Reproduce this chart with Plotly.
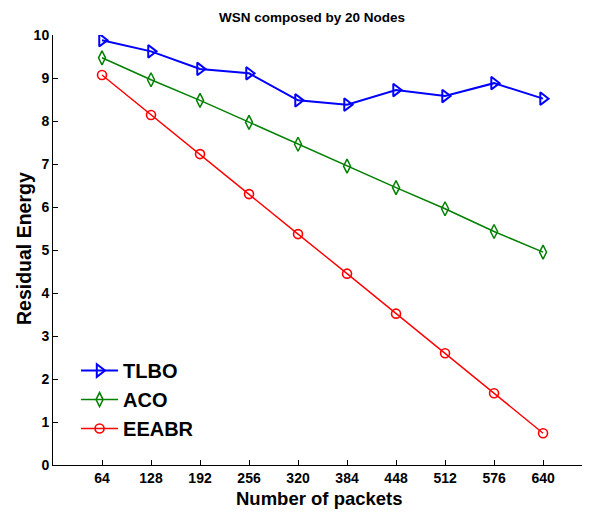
import plotly.graph_objects as go

packets = [64, 128, 192, 256, 320, 384, 448, 512, 576, 640]
tlbo = [9.88, 9.62, 9.21, 9.11, 8.48, 8.38, 8.72, 8.58, 8.88, 8.52]
aco = [9.47, 8.96, 8.48, 7.97, 7.46, 6.95, 6.45, 5.96, 5.43, 4.95]
eeabr = [9.07, 8.14, 7.23, 6.30, 5.37, 4.45, 3.52, 2.60, 1.67, 0.74]
y_ticks = list(range(0, 11))

fig = go.Figure()
fig.add_trace(go.Scatter(x=packets, y=tlbo, name="<b>TLBO</b>", mode="lines+markers",
                         line=dict(color="#0000ff", width=2),
                         marker=dict(symbol="triangle-right-open", size=11, color="#0000ff",
                                     line=dict(width=2, color="#0000ff"))))
fig.add_trace(go.Scatter(x=packets, y=aco, name="<b>ACO</b>", mode="lines+markers",
                         line=dict(color="#008000", width=1.5),
                         marker=dict(symbol="diamond-tall-open", size=10, color="#008000",
                                     line=dict(width=1.5, color="#008000"))))
fig.add_trace(go.Scatter(x=packets, y=eeabr, name="<b>EEABR</b>", mode="lines+markers",
                         line=dict(color="#ff0000", width=1.4),
                         marker=dict(symbol="circle-open", size=9, color="#ff0000",
                                     line=dict(width=1.6, color="#ff0000"))))

fnt = "Liberation Sans, Arial, sans-serif"
# page body has an 8px margin, so the figure is shrunk by 8px to fit the 590x513 window
fig.update_layout(
    width=582, height=505,
    margin=dict(l=45, r=1, t=27, b=48),
    paper_bgcolor="white", plot_bgcolor="white",
    font=dict(family=fnt, color="black"),
    showlegend=True,
    legend=dict(x=0.043, y=0.265, xanchor="left", yanchor="top",
                bgcolor="rgba(0,0,0,0)", borderwidth=0, itemwidth=37,
                font=dict(size=20, family=fnt), tracegroupgap=0),
    xaxis=dict(range=[0, 700], tickvals=packets, ticktext=[f"<b>{p}</b>" for p in packets],
               ticks="inside", ticklen=5, tickcolor="black", showline=True, linecolor="black",
               linewidth=1, showgrid=False, zeroline=False, tickfont=dict(size=14),
               automargin=False),
    yaxis=dict(range=[0, 10], tickvals=y_ticks, ticktext=[f"<b>{v}</b>" for v in y_ticks],
               ticks="inside", ticklen=5, tickcolor="black", showline=True, linecolor="black",
               linewidth=1, showgrid=False, zeroline=False, tickfont=dict(size=14),
               automargin=False),
    annotations=[
        dict(text="<b>WSN composed by 20 Nodes</b>", xref="paper", yref="paper",
             x=(312 - 53) / 536, y=(465 - 17) / 430, xanchor="center", yanchor="middle",
             showarrow=False, font=dict(size=13.5, family=fnt)),
        dict(text="<b>Number of packets</b>", xref="paper", yref="paper",
             x=(319 - 53) / 536, y=(465 - 498) / 430, xanchor="center", yanchor="middle",
             showarrow=False, font=dict(size=18.5, family=fnt)),
        dict(text="<b>Residual Energy</b>", xref="paper", yref="paper",
             x=(24 - 53) / 536, y=(465 - 249) / 430, xanchor="center", yanchor="middle",
             textangle=-90, showarrow=False, font=dict(size=19.5, family=fnt)),
    ],
)
fig.write_html("out.html")
